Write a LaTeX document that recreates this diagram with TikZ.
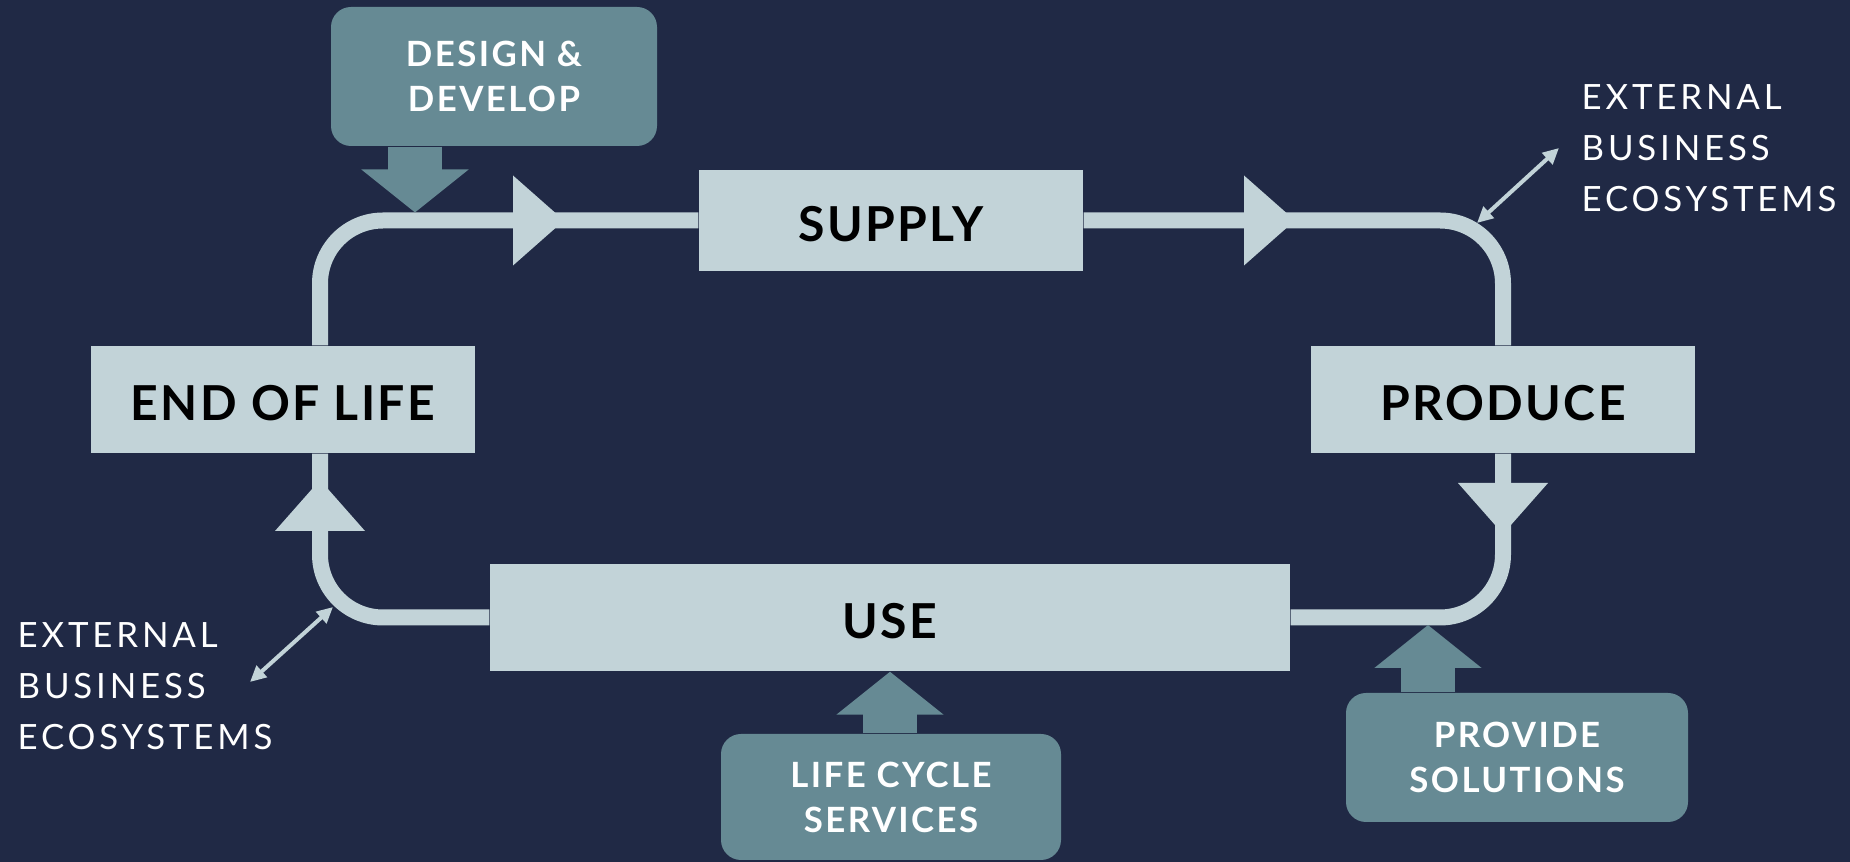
\documentclass[tikz,border=0pt]{standalone}
\usepackage{fontspec}
\setmainfont{Lato}
\newfontfamily\stagefont[LetterSpace=5]{Lato}
\newfontfamily\taskfont[LetterSpace=7]{Lato}
\newfontfamily\widefont[LetterSpace=11]{Lato}
\usetikzlibrary{arrows.meta}
\definecolor{navy}{HTML}{202945}
\definecolor{mist}{HTML}{C2D3D8}
\definecolor{slate}{HTML}{668A94}
\begin{document}
\begin{tikzpicture}[x=0.1mm, y=0.1mm,
  stage/.style={fill=mist, text=black, inner sep=0pt, minimum width=3.84cm, minimum height=1.07cm,
    text height=4.15mm, text depth=0pt, font=\stagefont\fontsize{13.7}{16}\selectfont\bfseries},
  task/.style={fill=slate, text=white, inner sep=0pt, rounded corners=2mm, align=center,
    font=\taskfont\fontsize{9.9}{12.8}\selectfont\bfseries},
  note/.style={text=white, inner sep=0pt, align=left, anchor=west,
    font=\widefont\fontsize{9.9}{14.5}\selectfont},
  loop/.style={draw=mist, line width=1.6mm, rounded corners=6.3mm},
  feed/.style={draw=slate, line width=5.4mm, -{Triangle[length=4.3mm,width=10.5mm]}},
  link/.style={draw=mist, line width=0.4mm, {Triangle[length=1.6mm,width=1.5mm]}-{Triangle[length=1.6mm,width=1.5mm]}}]
\fill [navy] (0,0) rectangle (1850,862);
\node [stage, minimum height=1.01cm] (sup) at (891,641.5) {SUPPLY};
\node [stage] (pro) at (1503,462.5) {PRODUCE};
\node [stage, minimum width=8cm] (use) at (890,244.5) {USE};
\node [stage] (eol) at (283,462.5) {END OF LIFE};
\node [task, minimum width=3.26cm, minimum height=1.39cm] (dd) at (494,785.5) {DESIGN \&\\DEVELOP};
\node [task, minimum width=3.40cm, minimum height=1.26cm] (lcs) at (891,65) {LIFE CYCLE\\SERVICES};
\node [task, minimum width=3.42cm, minimum height=1.29cm] (ps) at (1517,104.5) {PROVIDE\\SOLUTIONS};
\node [note] (eco1) at (1581,713.5) {EXTERNAL\\BUSINESS\\ECOSYSTEMS};
\node [note] (eco2) at (17,176) {EXTERNAL\\BUSINESS\\ECOSYSTEMS};
\coordinate (lp) at (320,0);
\draw [loop] (eol.north -| lp) |- (sup.west);
\draw [loop] (sup.east) -| (pro.north);
\draw [loop] (pro.south) |- (use.east);
\draw [loop] (use.west) -| (eol.south -| lp);
\fill [mist] (513,686.5) -- (564,641.5) -- (513,596.5) -- cycle;
\fill [mist] (1244,686.5) -- (1295,641.5) -- (1244,596.5) -- cycle;
\fill [mist] (1458,379) -- (1503,328) -- (1548,379) -- cycle;
\fill [mist] (275,331) -- (320,382) -- (365,331) -- cycle;
\coordinate (ddt) at (415,649.5);
\coordinate (pst) at (1428,237);
\draw [feed] (dd.south -| ddt) -- (ddt);
\draw [feed] (lcs.north -| use.south) -- (use.south);
\draw [feed] (ps.north -| pst) -- (pst);
\coordinate (xa1) at (1477,639);
\coordinate (xb1) at (1559,714);
\coordinate (xa2) at (333,255);
\coordinate (xb2) at (250,180);
\draw [link] (xa1) -- (xb1);
\draw [link] (xa2) -- (xb2);
\end{tikzpicture}
\end{document}
